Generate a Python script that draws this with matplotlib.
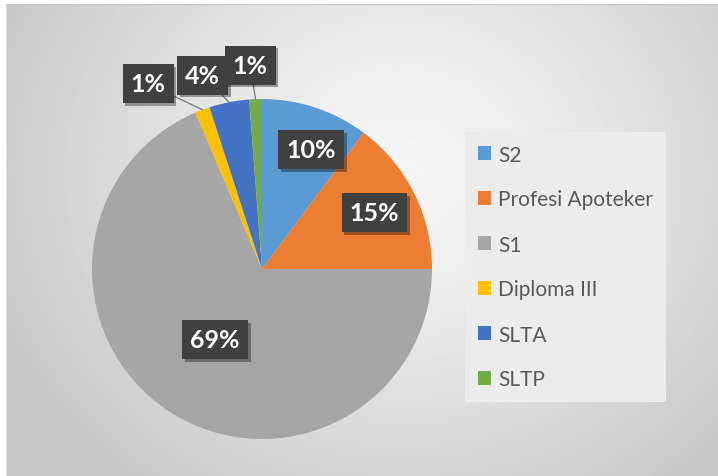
import numpy as np
import matplotlib.pyplot as plt
from matplotlib.patches import Patch
import matplotlib.patheffects as pe

# Data (shares, in percent)
categories = ['S2', 'Profesi Apoteker', 'S1', 'Diploma III', 'SLTA', 'SLTP']
shares = [10.2, 14.8, 68.6, 1.4, 3.8, 1.2]
colors = ['#5B9BD5', '#ED7D31', '#A5A5A5', '#FFC000', '#4472C4', '#70AD47']

W, H = 718, 477
fig = plt.figure(figsize=(W / 100, H / 100), dpi=100)
fig.patch.set_facecolor('white')

# gradient background panel with thin top/left border
bg = fig.add_axes([6 / W, 0, 1 - 6 / W, 1 - 5 / H])
yy, xx = np.mgrid[0:H, 0:W]
dist = np.hypot((xx - 400) / 1.0, (yy - 170) / 0.9)
shade = 0.965 - 0.18 * np.clip(dist / 430, 0, 1) ** 1.3
bg.imshow(shade, cmap='gray', vmin=0, vmax=1, aspect='auto', extent=[0, 1, 0, 1])
bg.set_xticks([])
bg.set_yticks([])
for s in bg.spines.values():
    s.set_visible(False)
bg.spines['top'].set_visible(True)
bg.spines['left'].set_visible(True)
bg.spines['top'].set_color('#c8c8c8')
bg.spines['left'].set_color('#dcdcdc')

# pie axes: center (262, 270) px from top, radius 170 px
cx, cy, r = 262, 270, 170
ax = fig.add_axes([(cx - r) / W, (H - cy - r) / H, 2 * r / W, 2 * r / H])
ax.set_facecolor('none')
wedges, _ = ax.pie(shares, colors=colors, startangle=90, counterclock=False,
                   radius=1, wedgeprops=dict(linewidth=0))
ax.set_xlim(-1, 1)
ax.set_ylim(-1, 1)
ax.set_aspect('equal')
ax.axis('off')

box = dict(boxstyle='square,pad=0.32', fc='#404040', ec='none')
shadow = [pe.withSimplePatchShadow(offset=(2, -2), shadow_rgbFace='black', alpha=0.35)]
label_font = dict(family=['Lato', 'DejaVu Sans'], fontsize=18, fontweight='bold', color='white')

inside_dist = {0: 0.76, 1: 0.74, 2: 0.50}
outside_pos = {3: (-0.67, 1.09), 4: (-0.35, 1.14), 5: (-0.07, 1.20)}

for i, (w, v) in enumerate(zip(wedges, shares)):
    ang = np.deg2rad((w.theta1 + w.theta2) / 2 - (4 if i == 0 else 0))
    txt = f'{v:.0f}%'
    if i in inside_dist:
        d = inside_dist[i]
        t = ax.text(d * np.cos(ang), d * np.sin(ang), txt, ha='center', va='center',
                    bbox=box, **label_font)
    else:
        t = ax.annotate(txt, xy=(np.cos(ang), np.sin(ang)), xytext=outside_pos[i],
                        ha='center', va='center', bbox=box, annotation_clip=False,
                        arrowprops=dict(arrowstyle='-', color='#808080', lw=1.0,
                                        shrinkA=0, shrinkB=0),
                        **label_font)
    t.get_bbox_patch().set_path_effects(shadow)

# legend
handles = [Patch(facecolor=c, edgecolor='none') for c in colors]
leg = fig.legend(handles, categories, loc='upper left',
                 bbox_to_anchor=(465 / W, 1 - 133 / H),
                 prop=dict(family='Lato', size=15), labelcolor='#595959',
                 frameon=True, fancybox=False, framealpha=1,
                 handlelength=0.65, handleheight=0.65, handletextpad=0.35,
                 labelspacing=1.2, borderpad=0.6, borderaxespad=0)
leg.get_frame().set_facecolor('#ececec')
leg.get_frame().set_edgecolor('none')

fig.savefig('out.png', dpi=100)
